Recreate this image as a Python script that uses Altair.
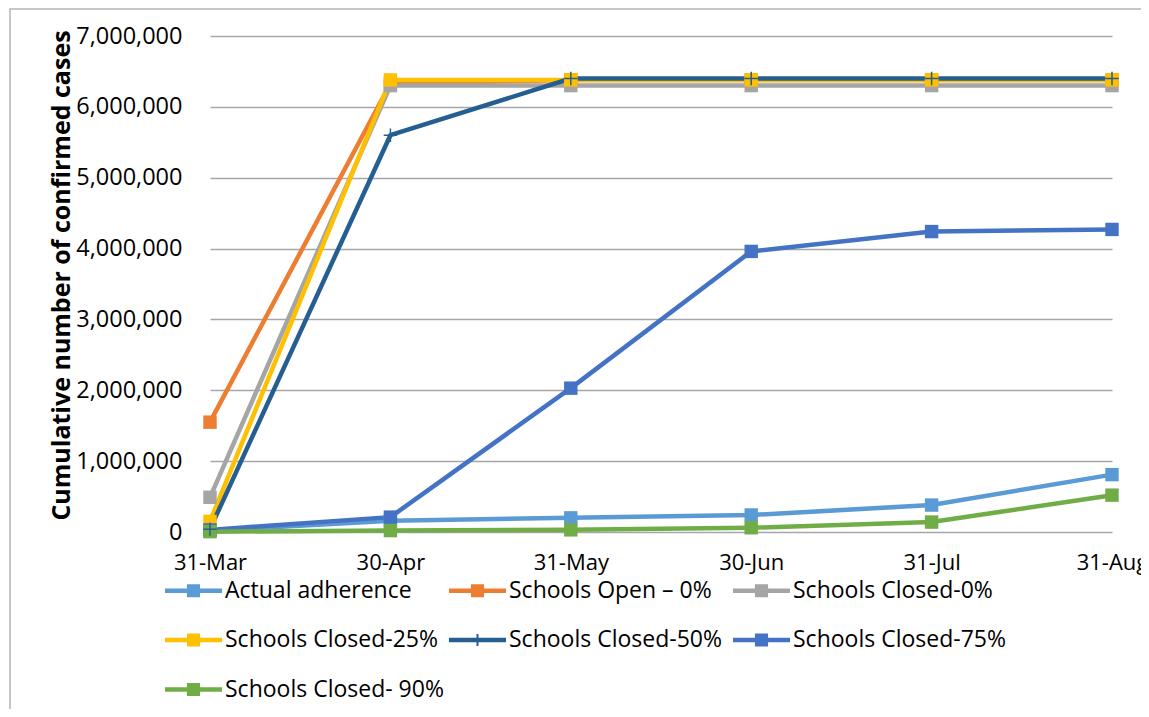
import altair as alt
import pandas as pd

dates = ["31-Mar", "30-Apr", "31-May", "30-Jun", "31-Jul", "31-Aug"]
series_names = [
    "Actual adherence",
    "Schools Open – 0%",
    "Schools Closed-0%",
    "Schools Closed-25%",
    "Schools Closed-50%",
    "Schools Closed-75%",
    "Schools Closed- 90%",
]
colors = ["#5B9BD5", "#ED7D31", "#A5A5A5", "#FFC000", "#255E91", "#4472C4", "#70AD47"]

actual = [20000, 160000, 200000, 240000, 380000, 810000]
open_0 = [1550000, 6330000, 6380000, 6380000, 6380000, 6380000]
closed_0 = [490000, 6300000, 6300000, 6300000, 6300000, 6300000]
closed_25 = [150000, 6380000, 6380000, 6380000, 6380000, 6380000]
closed_50 = [40000, 5600000, 6400000, 6400000, 6400000, 6400000]
closed_75 = [30000, 210000, 2030000, 3960000, 4240000, 4270000]
closed_90 = [5000, 20000, 30000, 60000, 140000, 520000]

all_values = [actual, open_0, closed_0, closed_25, closed_50, closed_75, closed_90]
rows = []
for name, vals in zip(series_names, all_values):
    for d, v in zip(dates, vals):
        rows.append({"series": name, "date": d, "cases": v})
df = pd.DataFrame(rows)

FONT = "Open Sans"
SQ = "M-1,-0.08H1V0.08H-1Z M-0.23,-0.23H0.23V0.23H-0.23Z"
PLUS = "M-1,-0.08H1V0.08H-1Z M-0.035,-0.21H0.035V0.21H-0.035Z"

legend = alt.Legend(
    title=None,
    orient="none",
    direction="horizontal",
    legendX=-45,
    legendY=526,
    columns=3,
    gridAlign="all",
    symbolType=alt.ExprRef(expr=f"datum.value === 'Schools Closed-50%' ? '{PLUS}' : '{SQ}'"),
    symbolSize=3249,
    symbolStrokeWidth=0,
    symbolOpacity=1,
    labelOffset=3,
    columnPadding=5,
    rowPadding=8.5,
    padding=0,
    labelFont=FONT,
    labelFontSize=23,
    labelColor="black",
    labelLimit=0,
)

xaxis = alt.Axis(
    title=None, labelAngle=0, labelPadding=20, ticks=False, tickSize=0, domain=False, grid=False,
    labelFont=FONT, labelFontSize=22, labelColor="black",
)
yaxis = alt.Axis(
    values=[0, 1000000, 2000000, 3000000, 4000000, 5000000, 6000000, 7000000],
    format=",d", ticks=False, tickSize=0, domain=False,
    labelFont=FONT, labelFontSize=23.5, labelColor="black", labelPadding=28,
    gridColor="#A6A6A6", gridWidth=1.3,
    title="Cumulative number of confirmed cases",
    titleFont=FONT, titleFontSize=25, titleFontWeight="bold", titleColor="black",
    titleX=-141, titleY=239, titleBaseline="alphabetic",
)

x_enc = alt.X("date:N", sort=dates, scale=alt.Scale(type="point", padding=0), axis=xaxis)
y_enc = alt.Y("cases:Q", scale=alt.Scale(domain=[0, 7000000]), axis=yaxis)
color_scale = alt.Scale(domain=series_names, range=colors)

# invisible layer that carries the legend
legend_carrier = alt.Chart(df).mark_point(shape="square", filled=True, size=0, opacity=0).encode(
    x=x_enc, y=y_enc,
    color=alt.Color("series:N", sort=series_names, scale=color_scale, legend=legend),
)
lines = alt.Chart(df).mark_line(strokeWidth=4.5, strokeCap="round", strokeJoin="round").encode(
    x=x_enc, y=y_enc,
    color=alt.Color("series:N", sort=series_names, scale=color_scale, legend=None),
)
squares = alt.Chart(df).mark_point(shape="square", filled=True, size=180, opacity=1).encode(
    x=x_enc, y=y_enc,
    color=alt.Color("series:N", sort=series_names, scale=color_scale, legend=None),
).transform_filter(alt.datum.series != "Schools Closed-50%")
crosses = alt.Chart(df).mark_point(shape="M-1,0H1M0,-1V1", filled=False, size=180, strokeWidth=1.5, opacity=1).encode(
    x=x_enc, y=y_enc,
    color=alt.Color("series:N", sort=series_names, scale=color_scale, legend=None),
).transform_filter(alt.datum.series == "Schools Closed-50%")

frame = alt.Chart(alt.Data(values=[{"f": 1}])).mark_rect(
    fill="transparent", stroke="#B4B4B4", strokeWidth=1.5
).encode(x=alt.value(-200), x2=alt.value(1400), y=alt.value(-27), y2=alt.value(1000))

chart = alt.layer(legend_carrier, frame, lines, squares, crosses).properties(
    width=902,
    height=496,
    padding={"left": 202, "top": 28, "right": 29, "bottom": 177},
    autosize=alt.AutoSizeParams(type="none"),
).configure_view(stroke=None)

chart.save("out.html", embed_options={"renderer": "svg", "actions": False})
